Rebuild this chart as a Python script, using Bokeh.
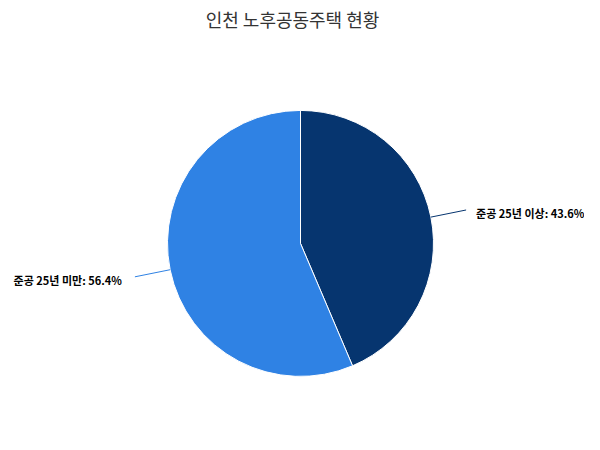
import math
from bokeh.plotting import figure
from bokeh.models import Range1d, ColumnDataSource
from bokeh.core.properties import value
from bokeh.embed import file_html
from bokeh.resources import INLINE

title_text = "인천 노후공동주택 현황"
categories = ["준공 25년 이상", "준공 25년 미만"]
shares = [43.6, 56.4]
colors = ["#06356f", "#2f82e4"]

W, H = 584, 434
R = 133
R_OUT = 169

p = figure(width=W, height=H, output_backend="svg", toolbar_location=None,
           x_range=Range1d(-300, 284), y_range=Range1d(-193, 211),
           min_border=0, outline_line_color=None)
p.title.text = title_text
p.title.align = "center"
p.title.offset = 8
p.title.standoff = 6
p.title.text_font = "Noto Sans CJK KR"
p.title.text_font_size = "18px"
p.title.text_font_style = "normal"
p.title.text_color = "#333333"
p.axis.visible = False
p.grid.visible = False
p.background_fill_color = "white"
p.border_fill_color = "white"

total = sum(shares)
starts, ends, mids = [], [], []
a = math.pi / 2
for s in shares:
    sweep = s / total * 2 * math.pi
    starts.append(a)
    ends.append(a - sweep)
    mids.append(a - sweep / 2)
    a -= sweep

src = ColumnDataSource(dict(start=starts, end=ends, color=colors))
p.wedge(x=0, y=0, radius=R, start_angle="start", end_angle="end",
        direction="clock", fill_color="color", line_color="white",
        line_width=1, source=src)

x0 = [R * math.cos(m) for m in mids]
y0 = [R * math.sin(m) for m in mids]
x1 = [R_OUT * math.cos(m) for m in mids]
y1 = [R_OUT * math.sin(m) for m in mids]
p.segment(x0=x0, y0=y0, x1=x1, y1=y1, line_color=colors, line_width=1)

labels = [f"{c}: {v}%" for c, v in zip(categories, shares)]
right = [math.cos(m) >= 0 for m in mids]
lx = [x + (10 if r else -13) for x, r in zip(x1, right)]
ly = [y - 3 for y in y1]
align = ["left" if r else "right" for r in right]
lsrc = ColumnDataSource(dict(x=lx, y=ly, text=labels, align=align))
p.text(x="x", y="y", text="text", text_align="align", text_baseline="middle",
       text_font=value("Noto Sans CJK KR"), text_font_size="11px",
       text_font_style="bold", text_color="#000000", source=lsrc)

open("out.html", "w").write(file_html(p, INLINE))
